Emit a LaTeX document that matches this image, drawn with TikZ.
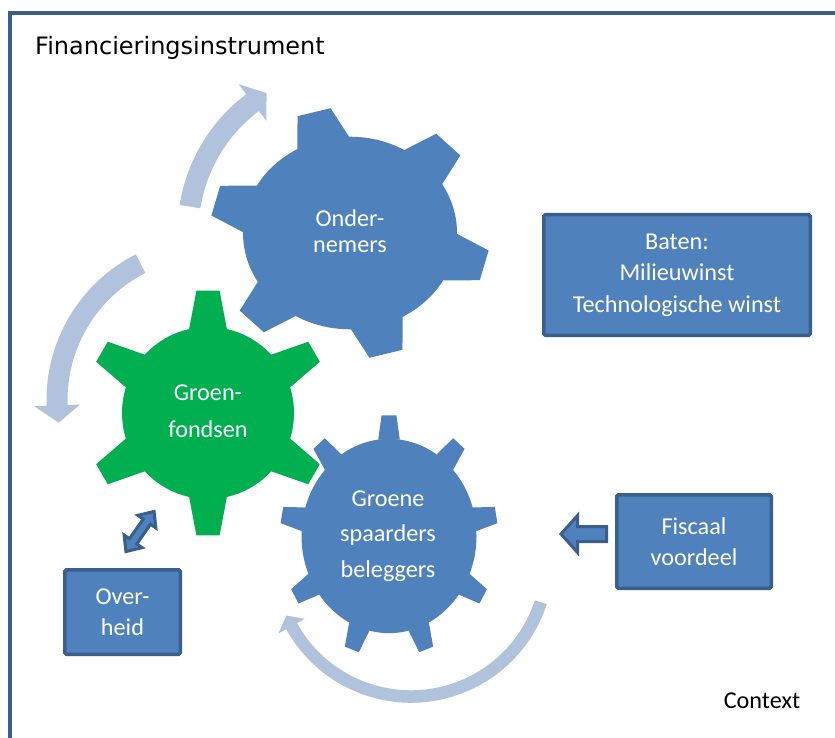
\documentclass[tikz,border=0pt]{standalone}
\usepackage{fontspec}
\setmainfont{Carlito}
\newfontfamily\titlefamily{DejaVu Sans}
\usetikzlibrary{calc}
\definecolor{gearblue}{HTML}{4F81BD}
\definecolor{geargreen}{HTML}{00B050}
\definecolor{arrowlight}{HTML}{B1C2DD}
\definecolor{darkedge}{HTML}{3A5F8C}

% gear: n teeth, phase, body radius, tip radius, base half-angle, tip half-angle, style
\newcommand\mygear[7]{%
  \path[#7] (0,0) circle[radius=#3];
  \foreach \k in {1,...,#1}{%
    \pgfmathsetmacro\gA{#2+360/#1*\k}%
    \path[#7] ({\gA-#5}:#3) -- ({\gA-#6}:#4) -- ({\gA+#6}:#4) -- ({\gA+#5}:#3) -- cycle;
  }%
}
% curved arrow: cx, cy, r, width, start, end, tip (screen angles), head half width
\newcommand\ringarrow[8]{%
  \pgfmathsetmacro\rOut{#3+#4/2}%
  \pgfmathsetmacro\rIn{#3-#4/2}%
  \pgfmathsetmacro\rHo{#3+#8}%
  \pgfmathsetmacro\rHi{#3-#8}%
  \pgfmathsetmacro\aS{-(#5)}%
  \pgfmathsetmacro\aE{-(#6)}%
  \pgfmathsetmacro\aT{-(#7)}%
  \fill[arrowlight] ($(#1,#2)+(\aS:\rOut)$) arc[start angle=\aS, end angle=\aE, radius=\rOut]
    -- ($(#1,#2)+(\aE:\rHo)$) -- ($(#1,#2)+(\aT:#3)$) -- ($(#1,#2)+(\aE:\rHi)$)
    -- ($(#1,#2)+(\aE:\rIn)$) arc[start angle=\aE, end angle=\aS, radius=\rIn] -- cycle;
}

\tikzset{
  halo/.style={fill=white, draw=white, line width=4},
  bluegear/.style={fill=gearblue},
  greengear/.style={fill=geargreen},
  geartext/.style={text=white, align=center},
  bluebox/.style={rectangle, fill=gearblue, draw=darkedge, line width=3.5, rounded corners=1.5, text=white, align=center},
  blockarrow/.style={fill=gearblue, draw=darkedge, line width=3, line join=miter},
}

\begin{document}
\begin{tikzpicture}[x=1pt, y=-1pt]
\useasboundingbox (0,0) rectangle (835,738);
\clip (0,0) rectangle (835,738);
\fill[white] (0,0) rectangle (835,738);

% outer frame
\draw[darkedge, line width=4] (10,760) -- (10,13) -- (860,13);
\node[anchor=base west, font=\titlefamily\fontsize{24}{28}\selectfont, inner sep=0] (title) at (35,55) {Financieringsinstrument};

% curved arrows
\ringarrow{350}{232}{162}{21}{171}{127}{121}{23}
\ringarrow{210}{400}{153}{21}{117}{182}{188.5}{23}
\ringarrow{411}{560}{136.5}{12.5}{-18}{-151}{-156}{15}

% gears
\begin{scope}[shift={(350,233)}, yscale=0.9]
  \mygear{6}{15}{107}{140}{14.5}{7}{halo}
  \mygear{6}{15}{107}{140}{14.5}{7}{bluegear}
\end{scope}
\begin{scope}[shift={(208,413)}]
  \mygear{6}{30}{86}{123}{12.7}{5.4}{halo}
  \mygear{6}{30}{86}{123}{12.7}{5.4}{greengear}
\end{scope}
\begin{scope}[shift={(389,536)}, yscale=1.11]
  \mygear{9}{30}{87.5}{109}{7.1}{3.9}{halo}
  \mygear{9}{30}{87.5}{109}{7.1}{3.9}{bluegear}
\end{scope}

\node[geartext, font=\fontsize{24.2}{26}\selectfont] (ondernemers) at (350,231) {Onder-\\nemers};
\node[geartext, font=\fontsize{24.2}{36.5}\selectfont] (groenfondsen) at (208,411) {Groen-\\fondsen};
\node[geartext, font=\fontsize{24.2}{35.5}\selectfont] (spaarders) at (388,536) {Groene\\spaarders\\beleggers};

% boxes
\node[bluebox, minimum width=266.5, minimum height=120.5, font=\fontsize{24.2}{31.5}\selectfont] (baten) at (677,275) {Baten:\\Milieuwinst\\Technologische winst};
\node[bluebox, minimum width=154.5, minimum height=93.5, font=\fontsize{24.2}{31.5}\selectfont] (fiscaal) at (694,541.5) {Fiscaal\\voordeel};
\node[bluebox, minimum width=115.5, minimum height=84.5, font=\fontsize{24.2}{31}\selectfont] (overheid) at (122.5,612) {Over-\\heid};

% block arrows
\filldraw[blockarrow] (561,534) -- (577.5,515.5) -- (577.5,526.5) -- (606.5,526.5) -- (606.5,541.5) -- (577.5,541.5) -- (577.5,552.5) -- cycle;
\begin{scope}[shift={(140,531.5)}, rotate=55]
  \filldraw[blockarrow] (24.5,0) -- (12,11) -- (12,4.5) -- (-12,4.5) -- (-12,11) -- (-24.5,0) -- (-12,-11) -- (-12,-4.5) -- (12,-4.5) -- (12,-11) -- cycle;
\end{scope}

\node[anchor=base, font=\fontsize{24.2}{28}\selectfont, inner sep=0] (context) at (762,708) {Context};
\end{tikzpicture}
\end{document}
